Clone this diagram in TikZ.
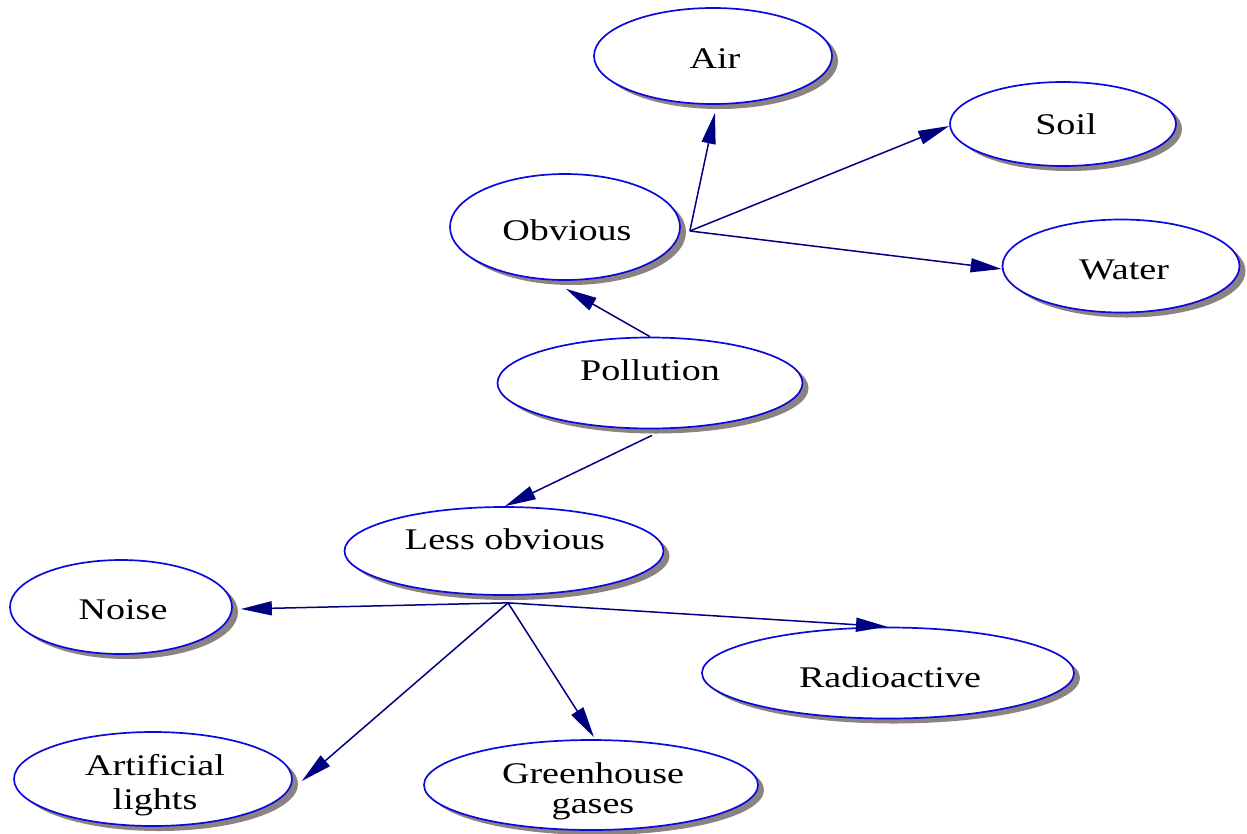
\documentclass[tikz,border=0pt]{standalone}
\usepackage{fontspec}
\setmainfont{Liberation Serif}[FakeStretch=1.27]
\usetikzlibrary{shapes.geometric,shadows,arrows.meta}
\definecolor{rim}{RGB}{10,10,220}
\definecolor{link}{RGB}{0,0,128}
\definecolor{shade}{RGB}{140,130,130}
\tikzset{
  bubble/.style={ellipse, draw=rim, line width=1.7pt, fill=white, inner sep=0pt,
    drop shadow={shadow xshift=6pt, shadow yshift=-5pt, fill=shade, opacity=1}},
  word/.style={anchor=base, font=\fontsize{30}{32}\selectfont, inner sep=0pt},
  link/.style={draw=link, line width=1.5pt,
    -{Triangle[length=31pt, width=14pt, fill=link]}},
}
\begin{document}
\begin{tikzpicture}[x=1pt, y=-1pt]
\useasboundingbox (0,0) rectangle (1247,833);

% ellipses
\node[bubble, minimum width=238pt, minimum height=96pt] (air) at (713,56) {};
\node[bubble, minimum width=226pt, minimum height=84pt] (soil) at (1063,124) {};
\node[bubble, minimum width=230pt, minimum height=106pt] (obv) at (565,227) {};
\node[bubble, minimum width=237pt, minimum height=93pt] (water) at (1121,266) {};
\node[bubble, minimum width=305pt, minimum height=91pt] (poll) at (650,383) {};
\node[bubble, minimum width=319pt, minimum height=88pt] (less) at (504,551) {};
\node[bubble, minimum width=222pt, minimum height=94pt] (noise) at (121,607) {};
\node[bubble, minimum width=372pt, minimum height=91pt] (radio) at (888,673) {};
\node[bubble, minimum width=278pt, minimum height=94pt] (art) at (153,779) {};
\node[bubble, minimum width=334pt, minimum height=90pt] (green) at (591,785) {};

% labels
\node[word] (tAir) at (715,68) {Air};
\node[word] (tSoil) at (1066,134) {Soil};
\node[word] (tObv) at (567,240) {Obvious};
\node[word] (tWater) at (1124,279) {Water};
\node[word] (tPoll) at (650,380) {Pollution};
\node[word] (tLess) at (505,549) {Less obvious};
\node[word] (tNoise) at (123,619) {Noise};
\node[word] (tRadio) at (890,687) {Radioactive};
\node[word] (tArt1) at (155,775) {Artificial};
\node[word] (tArt2) at (155,809) {lights};
\node[word] (tGreen1) at (593,783) {Greenhouse};
\node[word] (tGreen2) at (593,813) {gases};

% branch points
\coordinate (obvHub) at ([xshift=9pt, yshift=-4pt]obv.east);
\coordinate (lessHub) at ([xshift=4pt, yshift=-7pt]less.south);

% connectors
\draw[link] (obvHub) -- ([xshift=2pt, yshift=-8pt]air.south);
\draw[link] (obvHub) -- ([yshift=-2pt]soil.west);
\draw[link] (obvHub) -- ([yshift=-3pt]water.west);
\draw[link] (poll.north) -- ([xshift=1pt, yshift=-8pt]obv.south);
\draw[link] ([xshift=2pt, yshift=-6pt]poll.south) -- ([xshift=1pt]less.north);
\draw[link] (lessHub) -- ([xshift=8pt, yshift=-2pt]noise.east);
\draw[link] (lessHub) -- ([xshift=9pt, yshift=-2pt]art.east);
\draw[link] (lessHub) -- ([xshift=3pt, yshift=2pt]green.north);
\draw[link] (lessHub) -- ([xshift=-1pt]radio.north);
\end{tikzpicture}
\end{document}
